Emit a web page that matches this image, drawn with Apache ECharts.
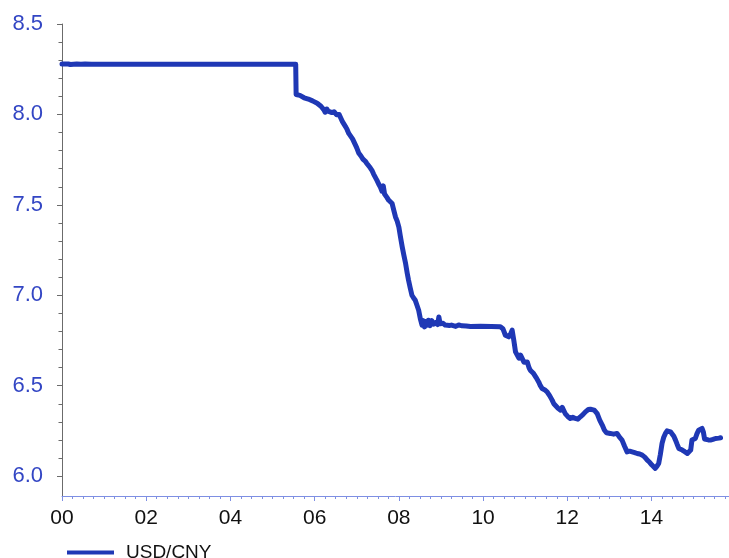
<!DOCTYPE html>
<html>
<head>
<meta charset="utf-8">
<script src="https://cdn.jsdelivr.net/npm/echarts@6/dist/echarts.min.js"></script>
<style>
  html, body { margin: 0; padding: 0; background: #fff; }
  #chart { width: 729px; height: 558px; }
</style>
</head>
<body>
<div id="chart"></div>
<script>
// USD/CNY exchange rate, x = years since 2000
const years = [
  0.00, 0.15, 0.20, 0.35, 0.45, 0.55, 0.70, 1.00, 2.00, 3.00, 4.00, 5.00, 5.55,
  5.56, 5.65, 5.75, 5.85, 5.95, 6.06, 6.15, 6.22, 6.25, 6.29,
  6.32, 6.36, 6.41, 6.46, 6.52, 6.58, 6.62, 6.66, 6.70, 6.74,
  6.77, 6.81, 6.85, 6.90, 6.93, 6.97, 7.00, 7.05, 7.10, 7.15,
  7.20, 7.24, 7.28, 7.32, 7.36, 7.40, 7.44, 7.48, 7.52, 7.56,
  7.60, 7.63, 7.66, 7.72, 7.76, 7.80, 7.84, 7.88, 7.92, 7.96,
  8.00, 8.04, 8.08, 8.12, 8.16, 8.20, 8.23, 8.27, 8.31, 8.35,
  8.39, 8.43, 8.47, 8.51, 8.55, 8.58, 8.61, 8.64, 8.67, 8.70,
  8.74, 8.78, 8.83, 8.88, 8.92, 8.95, 8.98, 9.05, 9.10, 9.14,
  9.20, 9.25, 9.35, 9.42, 9.50, 9.60, 9.70, 9.94, 10.20, 10.41,
  10.47, 10.53, 10.61, 10.66, 10.69, 10.73, 10.77, 10.81, 10.85, 10.89,
  10.93, 10.97, 11.00, 11.05, 11.09, 11.12, 11.16, 11.20, 11.26, 11.32,
  11.36, 11.40, 11.46, 11.52, 11.58, 11.64, 11.68, 11.72, 11.78, 11.84,
  11.88, 11.91, 11.95, 12.01, 12.07, 12.13, 12.19, 12.25, 12.31, 12.37,
  12.43, 12.50, 12.55, 12.59, 12.64, 12.71, 12.77, 12.83, 12.88, 12.93,
  13.02, 13.10, 13.18, 13.24, 13.30, 13.36, 13.42, 13.48, 13.54, 13.60,
  13.66, 13.72, 13.78, 13.84, 13.90, 13.96, 14.01, 14.05, 14.09, 14.13,
  14.17, 14.21, 14.25, 14.29, 14.33, 14.37, 14.41, 14.45, 14.49, 14.53,
  14.57, 14.61, 14.65, 14.69, 14.73, 14.79, 14.85, 14.89, 14.93, 14.96,
  15.00, 15.04, 15.08, 15.12, 15.16, 15.20, 15.23, 15.26, 15.30, 15.35,
  15.40, 15.46, 15.52, 15.60, 15.64
];
const usdCny = [
  8.279, 8.279, 8.276, 8.279, 8.277, 8.279, 8.278, 8.277, 8.277, 8.277, 8.277, 8.277, 8.277,
  8.110, 8.105, 8.092, 8.085, 8.075, 8.062, 8.045, 8.025, 8.012, 8.030,
  8.018, 8.028, 8.010, 8.015, 7.998, 8.000, 7.980, 7.960, 7.945, 7.930,
  7.917, 7.895, 7.888, 7.865, 7.856, 7.830, 7.815, 7.785, 7.770, 7.752,
  7.742, 7.729, 7.720, 7.705, 7.691, 7.670, 7.660, 7.635, 7.615, 7.598,
  7.575, 7.605, 7.560, 7.540, 7.525, 7.520, 7.507, 7.470, 7.433, 7.410,
  7.377, 7.320, 7.267, 7.220, 7.175, 7.120, 7.083, 7.040, 7.000, 6.985,
  6.972, 6.945, 6.917, 6.870, 6.835, 6.860, 6.825, 6.855, 6.835, 6.862,
  6.832, 6.860, 6.840, 6.850, 6.838, 6.880, 6.842, 6.845, 6.835, 6.840,
  6.833, 6.835, 6.828, 6.836, 6.831, 6.830, 6.827, 6.828, 6.827, 6.826,
  6.815, 6.779, 6.770, 6.790, 6.807, 6.751, 6.687, 6.690, 6.652, 6.669,
  6.665, 6.630, 6.623, 6.631, 6.600, 6.586, 6.580, 6.567, 6.545, 6.521,
  6.500, 6.485, 6.478, 6.466, 6.445, 6.420, 6.400, 6.392, 6.375, 6.365,
  6.380, 6.374, 6.346, 6.330, 6.319, 6.326, 6.319, 6.315, 6.328, 6.340,
  6.355, 6.368, 6.370, 6.374, 6.365, 6.346, 6.310, 6.282, 6.255, 6.240,
  6.236, 6.232, 6.236, 6.215, 6.199, 6.165, 6.134, 6.138, 6.134, 6.130,
  6.125, 6.122, 6.116, 6.105, 6.088, 6.075, 6.061, 6.050, 6.043, 6.055,
  6.070, 6.120, 6.181, 6.215, 6.236, 6.250, 6.254, 6.245, 6.236, 6.220,
  6.199, 6.175, 6.153, 6.150, 6.144, 6.135, 6.125, 6.132, 6.144, 6.199,
  6.205, 6.208, 6.235, 6.254, 6.258, 6.264, 6.245, 6.205, 6.195, 6.200,
  6.199, 6.203, 6.208, 6.210, 6.212
];

const seriesName = 'USD/CNY';
const xTickValues = [0, 2, 4, 6, 8, 10, 12, 14];
const xTickLabels = ['00', '02', '04', '06', '08', '10', '12', '14'];
const yMajorTicks = [6.0, 6.5, 7.0, 7.5, 8.0, 8.5];
const yMinorTicks = [];
for (let i = 0; i < yMajorTicks.length - 1; i++) {
  for (let k = 1; k < 5; k++) yMinorTicks.push(+(yMajorTicks[i] + k * 0.1).toFixed(2));
}

const lineData = years.map((x, i) => [x, usdCny[i]]);

const chart = echarts.init(document.getElementById('chart'));
const axisGray = '#6b6b6b';
const blueLabel = '#3346c4';
const lineBlue = '#1f38b5';
const xAxisBlue = '#7e8fe3';
const xMax = 15.84;
const yMin = 5.89, yMax = 8.5;

chart.setOption({
  animation: false,
  backgroundColor: '#ffffff',
  textStyle: { fontFamily: 'Liberation Sans, Arial, sans-serif' },
  grid: { left: 62, right: 0, top: 24, bottom: 62, containLabel: false },
  xAxis: {
    type: 'value',
    min: 0,
    max: xMax,
    interval: 2,
    axisLine: { show: true, lineStyle: { color: xAxisBlue, width: 1 } },
    axisTick: { show: true, inside: false, length: 5, lineStyle: { color: xAxisBlue } },
    minorTick: { show: true, splitNumber: 8, length: 3, lineStyle: { color: xAxisBlue } },
    splitLine: { show: false },
    axisLabel: {
      show: true,
      margin: 12,
      fontSize: 21,
      color: '#111111',
      showMaxLabel: false,
      formatter: v => {
        const i = xTickValues.indexOf(v);
        return i >= 0 ? xTickLabels[i] : '';
      }
    }
  },
  yAxis: [
    {
      type: 'value',
      position: 'left',
      min: yMin,
      max: yMax,
      axisLine: { show: true, lineStyle: { color: axisGray, width: 1 } },
      axisTick: { show: true, length: 5, customValues: yMajorTicks, lineStyle: { color: axisGray } },
      splitLine: { show: false },
      axisLabel: {
        show: true,
        margin: 19,
        fontSize: 22,
        color: blueLabel,
        customValues: yMajorTicks,
        formatter: v => v.toFixed(1)
      }
    },
    {
      type: 'value',
      position: 'left',
      offset: 0,
      min: yMin,
      max: yMax,
      axisLine: { show: false },
      axisTick: { show: true, length: 3.5, customValues: yMinorTicks, lineStyle: { color: axisGray } },
      splitLine: { show: false },
      axisLabel: { show: false }
    }
  ],
  legend: {
    data: [seriesName],
    left: 62,
    top: 538,
    icon: 'rect',
    itemWidth: 47,
    itemHeight: 4,
    textStyle: { fontSize: 19, color: '#111111', padding: [0, 0, 0, 7] }
  },
  series: [
    {
      name: seriesName,
      type: 'line',
      yAxisIndex: 0,
      data: lineData,
      showSymbol: false,
      symbol: 'none',
      lineStyle: { color: lineBlue, width: 5, join: 'round', cap: 'round' },
      itemStyle: { color: lineBlue }
    }
  ]
});
</script>
</body>
</html>
